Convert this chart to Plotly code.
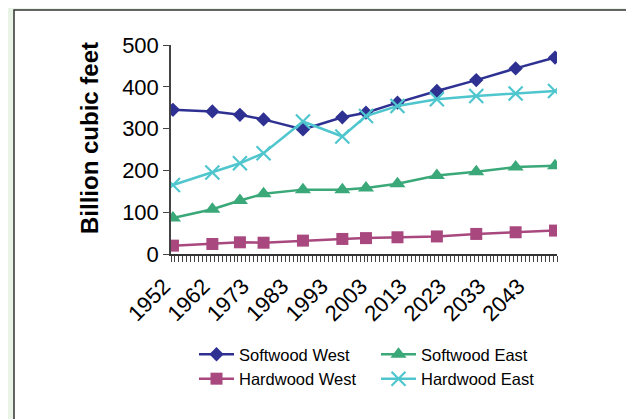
import plotly.graph_objects as go

# ---- data ----
years = ["1952", "1962", "1970", "1976", "1986", "1996", "2002", "2010", "2020", "2030", "2040", "2050"]
softwood_west = [345, 341, 333, 322, 298, 327, 338, 362, 390, 416, 444, 470]
softwood_east = [86, 107, 128, 144, 154, 154, 158, 168, 188, 197, 208, 211]
hardwood_west = [20, 24, 28, 27, 32, 36, 38, 40, 42, 48, 52, 56]
hardwood_east = [165, 195, 217, 241, 317, 281, 330, 354, 370, 378, 384, 390]

axis_years = [str(y) for y in list(range(1952, 1963)) + list(range(1964, 2051))]
labelled_years = ["1952", "1962", "1973", "1983", "1993", "2003", "2013", "2023", "2033", "2043"]
y_ticks = [0, 100, 200, 300, 400, 500]
grid_values = [100, 200, 300, 400]
y_title = "Billion cubic feet"

FONT = "Arial, Liberation Sans, sans-serif"

series = [
    ("Softwood West", softwood_west, "#2E3192", "diamond", 11, 0),
    ("Softwood East", softwood_east, "#3AA878", "triangle-up", 14, 0),
    ("Hardwood West", hardwood_west, "#A8487E", "square", 12, 0),
    ("Hardwood East", hardwood_east, "#4FC6CE", "x-thin", 14, 2.2),
]

fig = go.Figure()
for name, vals, color, sym, size, lw in series:
    fig.add_trace(go.Scatter(
        x=years, y=vals, name=name, mode="lines+markers",
        line=dict(color=color, width=2.5),
        marker=dict(symbol=sym, size=size, color=color,
                    line=dict(color=color, width=lw)),
    ))

# page offset of the figure div (browser body margin)
OFF = 8
W, H = 634, 419
L, R, T, B = 171 - OFF, 634 - (557 - OFF), 45 - OFF, 419 - (254 - OFF)
pw, ph = W - L - R, H - T - B

def px_x(p):
    return (p - OFF - L) / pw

def px_y(p):
    return (H - B - (p - OFF)) / ph

fig.add_shape(type="rect", xref="paper", yref="paper",
              x0=px_x(14), x1=px_x(660), y0=px_y(440), y1=px_y(10),
              fillcolor="white", line=dict(color="#333333", width=1.5),
              layer="below")

fig.add_annotation(text="<b>" + y_title + "</b>", textangle=-90,
                   xref="paper", yref="paper", x=px_x(89), y=px_y(138),
                   xanchor="center", yanchor="middle", showarrow=False,
                   font=dict(size=24, family=FONT, color="black"))

fig.update_layout(
    width=W, height=H,
    margin=dict(l=L, r=R, t=T, b=B),
    paper_bgcolor="#E9F3E6",
    plot_bgcolor="rgba(0,0,0,0)",
    font=dict(family=FONT, color="black"),
    showlegend=True,
    legend=dict(orientation="h", x=px_x(194), xanchor="left",
                y=px_y(337), yanchor="top", itemwidth=35,
                entrywidth=132, font=dict(size=16.5, family=FONT),
                bgcolor="rgba(0,0,0,0)", tracegroupgap=0),
    xaxis=dict(
        type="category", categoryorder="array", categoryarray=axis_years,
        range=[-0.5, len(axis_years) - 0.5],
        tickmode="array", tickvals=axis_years,
        ticktext=[y if y in labelled_years else "" for y in axis_years],
        tickson="boundaries", ticks="outside", ticklen=6, tickwidth=1,
        tickcolor="#444444", tickangle=-45,
        ticklabelstandoff=9, ticklabelshift=-9,
        tickfont=dict(size=22, family=FONT),
        showline=True, linecolor="#333333", linewidth=1.5,
        showgrid=False, zeroline=False,
    ),
    yaxis=dict(
        range=[0, 500], tickvals=y_ticks, ticks="outside", ticklen=6,
        tickcolor="#444444", tickfont=dict(size=22, family=FONT),
        showline=True, linecolor="#444444", linewidth=1.5,
        showgrid=False, zeroline=False,
    ),
    yaxis2=dict(
        overlaying="y", range=[0, 500], tickvals=grid_values,
        showgrid=True, gridcolor="#888888", gridwidth=1,
        showticklabels=False, ticks="", showline=False, zeroline=False,
    ),
)

fig.write_html("out.html")
